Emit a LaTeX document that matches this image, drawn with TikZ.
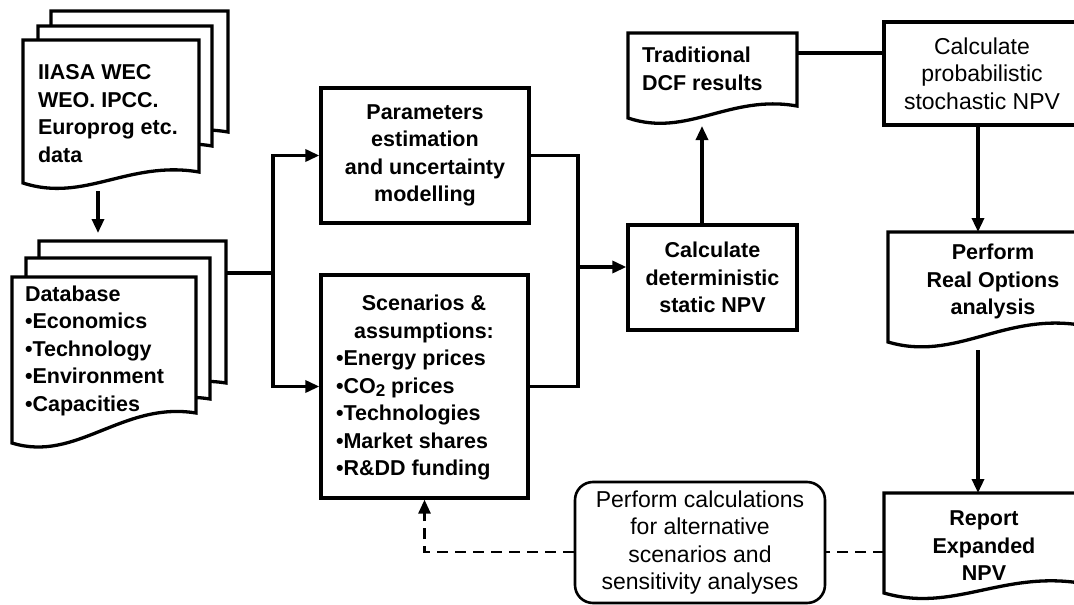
\documentclass[tikz,border=0pt]{standalone}
\usepackage{fontspec}
\setmainfont{Liberation Sans}
\usetikzlibrary{arrows.meta,calc}

% document-shaped page: name, left x, top y, right x, right bottom y, left bottom y
\newcommand\docpage[6]{%
  \draw[box,fill=white] (#2,#3) -- (#4,#3) -- (#4,#5)
    .. controls ({#2+0.6*(#4-#2)},{#5-12}) and ({#2+0.35*(#4-#2)},{#6+20}) .. (#2,#6) -- cycle;
  \node[inner sep=0,outer sep=0,minimum width={#4-#2},minimum height={#6-#3},anchor=north west] (#1) at (#2,#3) {};%
}

\tikzset{
  box/.style={draw=black,line width=3.3pt,line join=miter},
  rbox/.style={box,rectangle,fill=white,inner sep=0,align=center},
  bold/.style={font=\fontsize{21.5}{27.5}\selectfont\bfseries},
  plain/.style={font=\fontsize{23}{27.5}\selectfont},
  txt/.style={inner sep=0,outer sep=0},
  conn/.style={draw=black,line width=3.3pt},
  arr/.style={conn,-{Triangle[length=14pt,width=12pt]}},
  dashconn/.style={conn,line width=2.8pt,dash pattern=on 11pt off 7pt},
}

\begin{document}
\begin{tikzpicture}[x=1pt,y=-1pt]
\useasboundingbox (0,0) rectangle (1074,605);
\clip (0,0) rectangle (1074,605);
\fill[white] (0,0) rectangle (1074,605);

% source data stack
\docpage{iiasaback}{51}{11}{228}{132}{143}
\docpage{iiasamid}{38}{26}{212}{146}{157}
\docpage{iiasa}{23}{40}{199}{172}{183}
\node[txt,bold,align=left,anchor=west] (iiasa-t) at (38,113.5)
  {IIASA WEC\\WEO. IPCC.\\Europrog etc.\\data};

% database stack
\docpage{dbback}{39}{241}{226}{383}{410}
\docpage{dbmid}{26}{258}{210}{399}{426}
\docpage{db}{12}{277}{196}{413}{443}
\node[txt,bold,align=left,anchor=west] (db-t) at (25,350.5)
  {Database\\•Economics\\•Technology\\•Environment\\•Capacities};

% modelling boxes
\node[rbox,bold,minimum width=208,minimum height=135] (param) at (425,155.5)
  {Parameters\\estimation\\and uncertainty\\modelling};
\node[rbox,minimum width=207,minimum height=223] (scen) at (424.5,386.5) {};
\node[txt,bold,align=center] (scen-t) at (424,319) {Scenarios \&\\assumptions:};
\node[txt,bold,align=left,anchor=west] (scen-l) at (336,415)
  {•Energy prices\\•CO\raisebox{-0.35ex}{\fontsize{17}{17}\selectfont 2} prices\\•Technologies\\•Market shares\\•R\&DD funding};

% valuation
\node[rbox,bold,minimum width=169,minimum height=105] (calcdet) at (712.5,277.5)
  {Calculate\\deterministic\\static NPV};
\docpage{dcf}{628}{33}{797}{106}{118}
\node[txt,bold,align=left,anchor=west] (dcf-t) at (642,69) {Traditional\\DCF results};

\node[rbox,plain,minimum width=196,minimum height=103] (prob) at (982,73.5)
  {Calculate\\probabilistic\\stochastic NPV};
\docpage{perf}{888}{232}{1080}{325}{342}
\node[txt,bold,align=center] (perf-t) at (993,281.5) {Perform\\Real Options\\analysis};
\docpage{report}{884}{493}{1080}{583}{593}
\node[txt,bold,align=center] (report-t) at (984,546) {Report\\Expanded\\NPV};

\node[box,rounded corners=18pt,fill=white,line width=2.6pt,plain,align=center,
  inner sep=0,minimum width=250,minimum height=121] (alt) at (700,542.5)
  {Perform calculations\\for alternative\\scenarios and\\sensitivity analyses};

% connectors
\coordinate (dbin) at (98,233);
\draw[arr] (iiasa.south -| dbin) ++(0,8) -- (dbin);

\coordinate (fork) at (273,273);
\draw[conn] (dbback.east |- fork) -- (fork);
\draw[arr] (fork) |- (param.west);
\draw[arr] (fork) |- (scen.west);

\coordinate (join) at (578,267);
\draw[conn] (param.east) -| (join);
\draw[conn] (scen.east) -| (join);
\draw[arr] (join) -- (join -| calcdet.west);

\coordinate (dcfin) at (702,126);
\draw[arr] (calcdet.north -| dcfin) -- (dcfin);

\coordinate (link) at (840,53);
\draw[conn] (link -| dcf.east) -- (link -| prob.west);

\coordinate (roout) at (978,350);
\draw[arr] (prob.south -| roout) -- (perf.north -| roout);
\draw[arr] (roout) -- (roout |- report.north);

\coordinate (fb) at (700,552);
\draw[dashconn] (fb -| report.west) -- (fb -| alt.east);
\draw[dashconn,-{Triangle[length=14pt,width=12pt]}] (fb -| alt.west) -| (scen.south);
\end{tikzpicture}
\end{document}
